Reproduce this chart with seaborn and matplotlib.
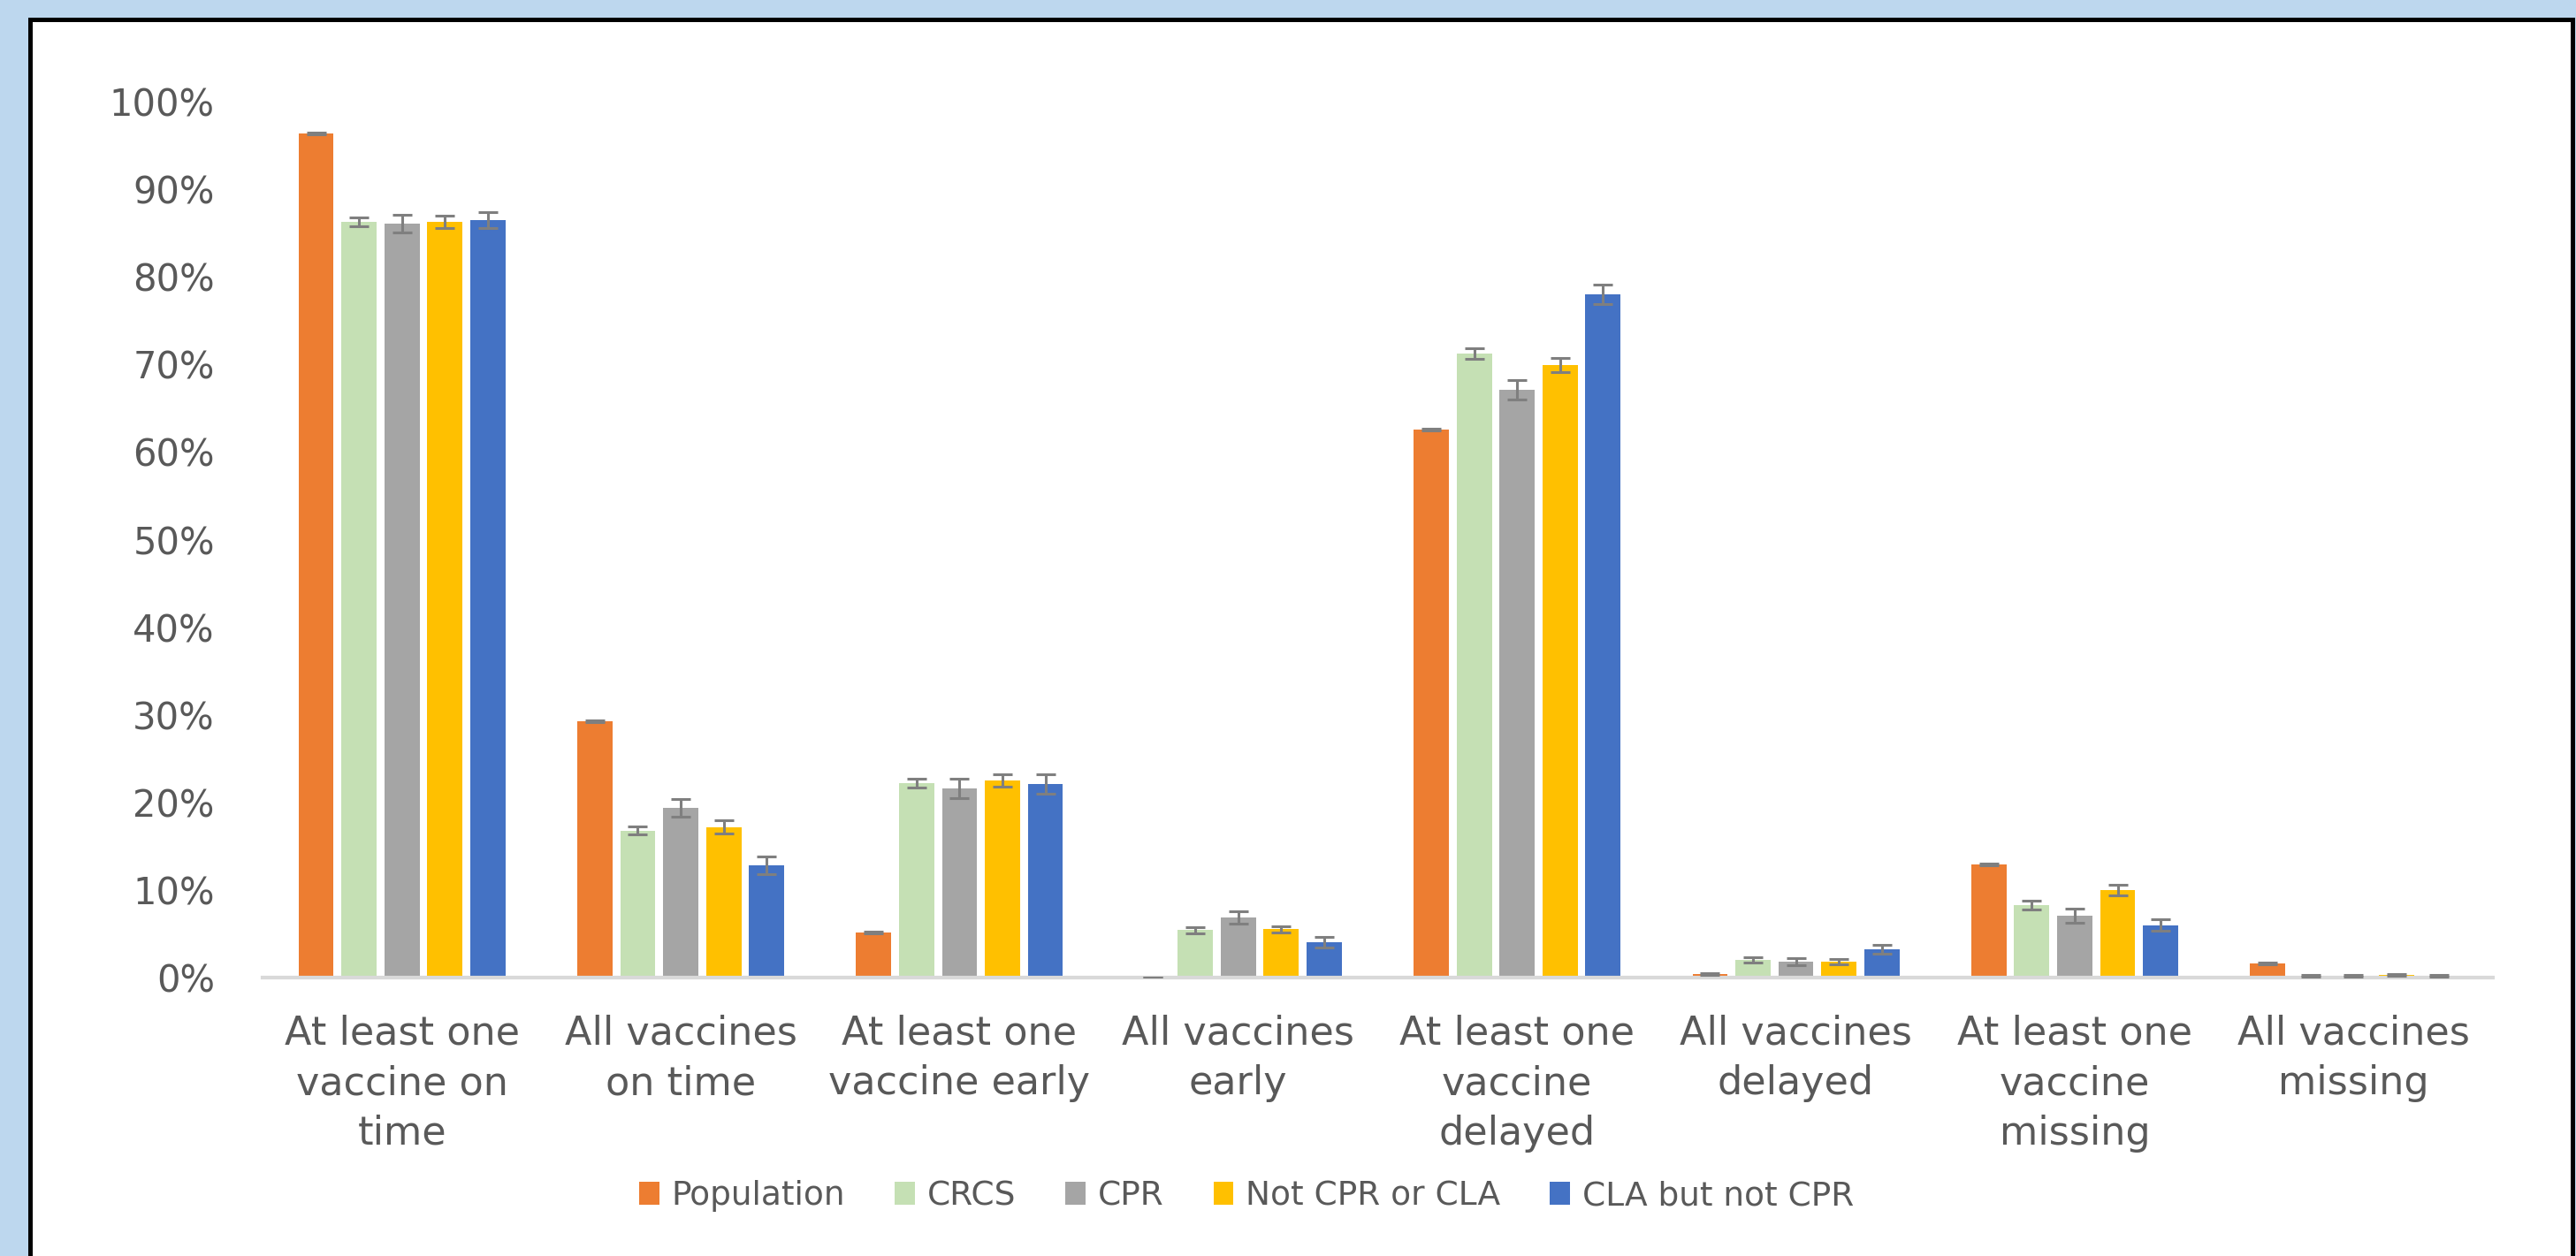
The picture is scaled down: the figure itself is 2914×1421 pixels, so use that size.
import pandas as pd
import seaborn as sns
import matplotlib.pyplot as plt
from matplotlib.patches import Rectangle
from matplotlib.ticker import PercentFormatter

# categories on the x axis (wrapped like the original)
categories = ['At least one\nvaccine on\ntime', 'All vaccines\non time',
              'At least one\nvaccine early', 'All vaccines\nearly',
              'At least one\nvaccine\ndelayed', 'All vaccines\ndelayed',
              'At least one\nvaccine\nmissing', 'All vaccines\nmissing']
groups = ['Population', 'CRCS', 'CPR', 'Not CPR or CLA', 'CLA but not CPR']

# values in %
population = [96.4, 29.3, 5.1, 0.0, 62.6, 0.4, 12.9, 1.6]
crcs = [86.3, 16.8, 22.2, 5.4, 71.2, 2.0, 8.3, 0.2]
cpr = [86.1, 19.4, 21.6, 6.9, 67.1, 1.8, 7.1, 0.2]
not_cpr_cla = [86.3, 17.2, 22.5, 5.5, 69.9, 1.8, 10.0, 0.3]
cla_not_cpr = [86.5, 12.8, 22.1, 4.0, 78.0, 3.2, 6.0, 0.2]

# error bar half widths in %
population_err = [0.1, 0.1, 0.1, 0.0, 0.1, 0.1, 0.1, 0.1]
crcs_err = [0.5, 0.5, 0.5, 0.4, 0.6, 0.3, 0.5, 0.1]
cpr_err = [1.0, 1.0, 1.1, 0.7, 1.1, 0.4, 0.8, 0.1]
not_cpr_cla_err = [0.7, 0.8, 0.7, 0.4, 0.8, 0.3, 0.6, 0.1]
cla_not_cpr_err = [0.9, 1.0, 1.1, 0.6, 1.1, 0.5, 0.7, 0.1]

colors = ['#ED7D31', '#C5E0B4', '#A5A5A5', '#FFC000', '#4472C4']

series = [population, crcs, cpr, not_cpr_cla, cla_not_cpr]
errors = [population_err, crcs_err, cpr_err, not_cpr_cla_err, cla_not_cpr_err]

rows = []
for g, vals in zip(groups, series):
    for c, v in zip(categories, vals):
        rows.append({'category': c, 'group': g, 'value': v})
df = pd.DataFrame(rows)

sns.set_theme(style='white')
plt.rcParams['font.family'] = ['DejaVu Sans']
text_color = '#595959'

W, H = 2914, 1421
fig = plt.figure(figsize=(W / 100, H / 100), dpi=100, facecolor='#BDD7EE')
fig.patches.append(Rectangle((34 / W, -0.05), (2910 - 34) / W, 1.05 - 22 / H,
                             transform=fig.transFigure, facecolor='white',
                             edgecolor='black', linewidth=3.6, zorder=-1))

ax = fig.add_axes([297 / W, 1 - 1106 / H, (2820 - 297) / W, (1106 - 115) / H])
ax.patch.set_visible(False)

sns.barplot(data=df, x='category', y='value', hue='group', order=categories,
            hue_order=groups, palette=colors, saturation=1, width=0.77,
            gap=0.18, linewidth=0, errorbar=None, ax=ax)

# error bars placed on the bars seaborn drew
for cont, err in zip(ax.containers, errors):
    xs = [p.get_x() + p.get_width() / 2 for p in cont]
    ys = [p.get_height() for p in cont]
    ax.errorbar(xs, ys, yerr=err, fmt='none', ecolor='#7F7F7F',
                elinewidth=2.2, capsize=8, capthick=2.2, zorder=5)

ax.set_xlim(-0.5, len(categories) - 0.5)
ax.set_ylim(0, 100)
ax.set_yticks(range(0, 101, 10))
ax.yaxis.set_major_formatter(PercentFormatter(100, decimals=0))
ax.set_xlabel('')
ax.set_ylabel('')
for s in ['top', 'right', 'left']:
    ax.spines[s].set_visible(False)
ax.spines['bottom'].set_color('#D9D9D9')
ax.spines['bottom'].set_linewidth(3)
ax.tick_params(axis='y', length=0, pad=39, labelsize=30, labelcolor=text_color)
ax.tick_params(axis='x', length=0, pad=30, labelsize=32, labelcolor=text_color)
for lab in ax.get_xticklabels():
    lab.set_linespacing(1.4)

handles, labels = ax.get_legend_handles_labels()
ax.get_legend().remove()
fig.legend(handles, labels, loc='center', bbox_to_anchor=(1410 / W, 68 / H),
           ncol=5, frameon=False, labelcolor=text_color, fontsize=27,
           handlelength=0.6, handleheight=0.7, handletextpad=0.37,
           columnspacing=1.5)

fig.savefig('out.png', dpi=100, facecolor=fig.get_facecolor())
